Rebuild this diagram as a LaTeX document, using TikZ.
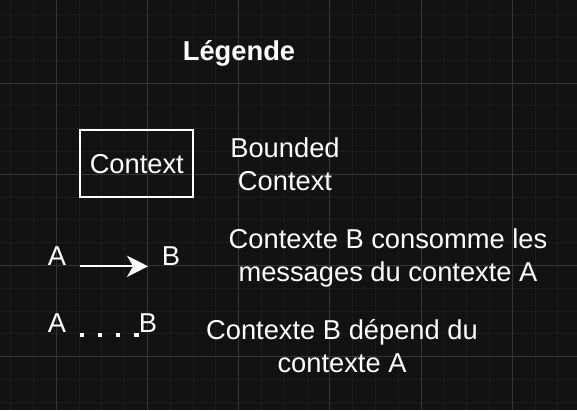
\documentclass[tikz,border=0pt]{standalone}
\usepackage{fontspec}
\setmainfont{Liberation Sans}
\usetikzlibrary{arrows.meta}
\definecolor{bgdark}{RGB}{18,18,18}
\definecolor{gridminor}{RGB}{28,28,28}
\definecolor{gridmajor}{RGB}{54,54,54}

\begin{document}
\begin{tikzpicture}[x=1pt,y=-1pt,
    lbl/.style={white,inner sep=0pt,anchor=base,align=center,
      font=\fontsize{27.3}{32.8}\selectfont},
    gridline/.style={line width=1pt}]
  \useasboundingbox (0,0) rectangle (577,410);
  \fill[bgdark] (0,0) rectangle (577,410);

  \foreach \x in {10.7,33.5,...,577} \draw[gridline,gridminor] (\x,0) -- (\x,410);
  \foreach \y in {14.6,37.4,...,410} \draw[gridline,gridminor] (0,\y) -- (577,\y);
  \foreach \x in {56.3,147.5,...,577} \draw[gridline,gridmajor] (\x,0) -- (\x,410);
  \foreach \y in {83,174.2,...,410} \draw[gridline,gridmajor] (0,\y) -- (577,\y);

  \node[lbl,font=\fontsize{27.3}{32.8}\selectfont\bfseries] (legende) at (239,60) {Légende};

  \node[lbl,draw,line width=2.3pt,anchor=center,minimum width=113pt,minimum height=67pt] (ctxbox) at (136.8,163.8) {Context};
  \node[lbl] (ctxtxt) at (285,190.7) {Bounded\\Context};

  \node[lbl] (a1) at (57,265) {A};
  \node[lbl] (b1) at (171,265) {B};
  \node[lbl] (consomme) at (388,281.2) {Contexte B consomme les\\messages du contexte A};

  \node[lbl] (a2) at (57,332.7) {A};
  \node[lbl] (b2) at (148,332.7) {B};
  \node[lbl] (depend) at (342,372.3) {Contexte B dépend du\\contexte A};

  \draw[white,line width=2.3pt,-{Stealth[length=21pt,width=21pt,inset=6pt]},
    shorten <=13.2pt,shorten >=13.6pt] ([yshift=-1.3pt]a1.base east) -- ([yshift=-1.3pt]b1.base west);
  \draw[white,line width=4.55pt,dash pattern=on 4.55pt off 13.65pt,
    shorten <=13.2pt] ([yshift=-2.3pt]a2.base east) -- ([yshift=-2.3pt]b2.base west);
\end{tikzpicture}
\end{document}
